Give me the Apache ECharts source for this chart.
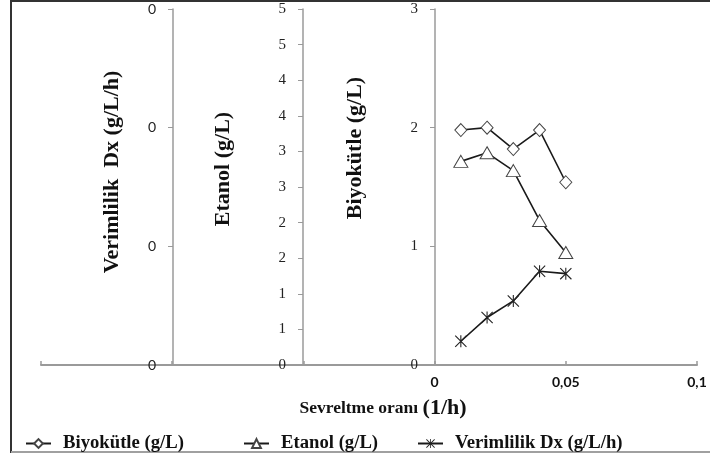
<!DOCTYPE html>
<html>
<head>
<meta charset="utf-8">
<script src="https://cdn.jsdelivr.net/npm/echarts@6/dist/echarts.min.js"></script>
<style>
html,body{margin:0;padding:0;background:#fff;}
#chart{width:710px;height:454px;}
</style>
</head>
<body>
<div id="chart"></div>
<script>
// Data
var dilutionRates = [0.01, 0.02, 0.03, 0.04, 0.05];
var biyokutle = [1.98, 2.00, 1.82, 1.98, 1.54];        // g/L
var etanol = [2.86, 2.98, 2.73, 2.03, 1.58];           // g/L
var verimlilik = [0.020, 0.040, 0.054, 0.079, 0.077];  // g/L/h
var xTickValues = [0, 0.05, 0.1];
var xTickLabels = ['0', '0,05', '0,1'];
var seriesNames = ['Biyokütle (g/L)', 'Etanol (g/L)', 'Verimlilik Dx (g/L/h)'];
var axisTitles = ['Verimlilik  Dx (g/L/h)', 'Etanol (g/L)', 'Biyokütle (g/L)'];
var xTitleMain = 'Sevreltme oranı ';
var xTitleUnit = '(1/h)';

function pairs(ys) { return dilutionRates.map(function (x, i) { return [x, ys[i]]; }); }

var starPath = 'path://M4.55 0L5.45 0L5.45 10L4.55 10Z M0 0.65L0.65 0L10 9.35L9.35 10Z M9.35 0L10 0.65L0.65 10L0 9.35Z';

var chart = echarts.init(document.getElementById('chart'));
var axisGray = '#9a9a9a';
var serif = '"Liberation Serif", "DejaVu Serif", serif';
var legendText = { fontFamily: serif, fontWeight: 'bold', fontSize: 18.7, color: '#111', padding: [0, 0, 0, 7] };

var option = {
  backgroundColor: '#fff',
  animation: false,
  grid: { left: 41, right: 13, top: 9, bottom: 89, containLabel: false },
  xAxis: {
    type: 'value', min: -0.15, max: 0.1, interval: 0.05,
    axisLine: { onZero: false, lineStyle: { color: axisGray, width: 2 } },
    axisTick: { show: true, inside: true, length: 4, lineStyle: { color: axisGray, width: 1.5 } },
    splitLine: { show: false },
    axisLabel: {
      margin: 10,
      fontFamily: 'Lato, "Open Sans", sans-serif', fontWeight: 'bold', fontSize: 14, color: '#111',
      formatter: function (v) {
        for (var i = 0; i < xTickValues.length; i++) {
          if (Math.abs(v - xTickValues[i]) < 1e-9) return xTickLabels[i];
        }
        return '';
      }
    }
  },
  yAxis: [
    { // Biyokütle
      type: 'value', position: 'left', offset: -394, min: 0, max: 3, interval: 1,
      axisLine: { show: true, onZero: false, lineStyle: { color: axisGray, width: 1.5 } },
      axisTick: { show: true, length: 5, lineStyle: { color: axisGray } },
      splitLine: { show: false },
      axisLabel: { margin: 17, fontFamily: serif, fontSize: 15, color: '#222' }
    },
    { // Etanol
      type: 'value', position: 'left', offset: -262, min: 0, max: 5, interval: 0.5,
      axisLine: { show: true, onZero: false, lineStyle: { color: axisGray, width: 1.5 } },
      axisTick: { show: true, length: 5, lineStyle: { color: axisGray } },
      splitLine: { show: false },
      axisLabel: { margin: 17, fontFamily: serif, fontSize: 15, color: '#222',
        formatter: function (v) { return String(Math.round(v)); } }
    },
    { // Verimlilik
      type: 'value', position: 'left', offset: -132, min: 0, max: 0.3, interval: 0.1,
      axisLine: { show: true, onZero: false, lineStyle: { color: axisGray, width: 1.5 } },
      axisTick: { show: true, length: 5, lineStyle: { color: axisGray } },
      splitLine: { show: false },
      axisLabel: { margin: 17, fontFamily: 'Lato, sans-serif', fontSize: 14, color: '#222',
        formatter: function (v) { return String(Math.round(v)); } }
    }
  ],
  legend: [
    { data: [seriesNames[0]], left: 20, top: 429, itemWidth: 25, itemHeight: 11, textStyle: legendText },
    { data: [seriesNames[1]], left: 238, top: 429, itemWidth: 25, itemHeight: 11, textStyle: legendText },
    { data: [seriesNames[2]], left: 412, top: 429, itemWidth: 25, itemHeight: 11, textStyle: legendText }
  ],
  series: [
    {
      name: seriesNames[0], type: 'line', yAxisIndex: 0, data: pairs(biyokutle),
      symbol: 'diamond', symbolSize: [12, 13],
      lineStyle: { color: '#1a1a1a', width: 1.6 },
      itemStyle: { color: '#fff', borderColor: '#444', borderWidth: 1 }
    },
    {
      name: seriesNames[1], type: 'line', yAxisIndex: 1, data: pairs(etanol),
      symbol: 'triangle', symbolSize: [14, 12],
      lineStyle: { color: '#1a1a1a', width: 1.6 },
      itemStyle: { color: '#fff', borderColor: '#444', borderWidth: 1 }
    },
    {
      name: seriesNames[2], type: 'line', yAxisIndex: 2, data: pairs(verimlilik),
      symbol: starPath, symbolSize: [12, 12],
      lineStyle: { color: '#1a1a1a', width: 1.6 },
      itemStyle: { color: '#222', borderWidth: 0 }
    }
  ],
  graphic: [
    { type: 'line', shape: { x1: 11, y1: 1, x2: 710, y2: 1 }, silent: true, style: { stroke: '#333', lineWidth: 2 } },
    { type: 'line', shape: { x1: 11, y1: 0, x2: 11, y2: 453 }, silent: true, style: { stroke: '#333', lineWidth: 2 } },
    { type: 'line', shape: { x1: 11, y1: 452, x2: 710, y2: 452 }, silent: true, style: { stroke: '#a0a0a0', lineWidth: 2 } },
    { type: 'text', x: 112, y: 172, rotation: Math.PI / 2,
      style: { text: axisTitles[0], fontFamily: serif, fontWeight: 'bold', fontSize: 22, fill: '#111', textAlign: 'center', textVerticalAlign: 'middle' } },
    { type: 'text', x: 223, y: 169, rotation: Math.PI / 2,
      style: { text: axisTitles[1], fontFamily: serif, fontWeight: 'bold', fontSize: 22, fill: '#111', textAlign: 'center', textVerticalAlign: 'middle' } },
    { type: 'text', x: 355, y: 148, rotation: Math.PI / 2,
      style: { text: axisTitles[2], fontFamily: serif, fontWeight: 'bold', fontSize: 22, fill: '#111', textAlign: 'center', textVerticalAlign: 'middle' } },
    { type: 'text', x: 383, y: 408,
      style: {
        text: '{a|' + xTitleMain + '}{b|' + xTitleUnit + '}',
        rich: {
          a: { fontFamily: serif, fontWeight: 'bold', fontSize: 17.5, fill: '#111', color: '#111' },
          b: { fontFamily: serif, fontWeight: 'bold', fontSize: 22, fill: '#111', color: '#111' }
        },
        textAlign: 'center', textVerticalAlign: 'middle'
      } }
  ]
};
chart.setOption(option);
</script>
</body>
</html>
